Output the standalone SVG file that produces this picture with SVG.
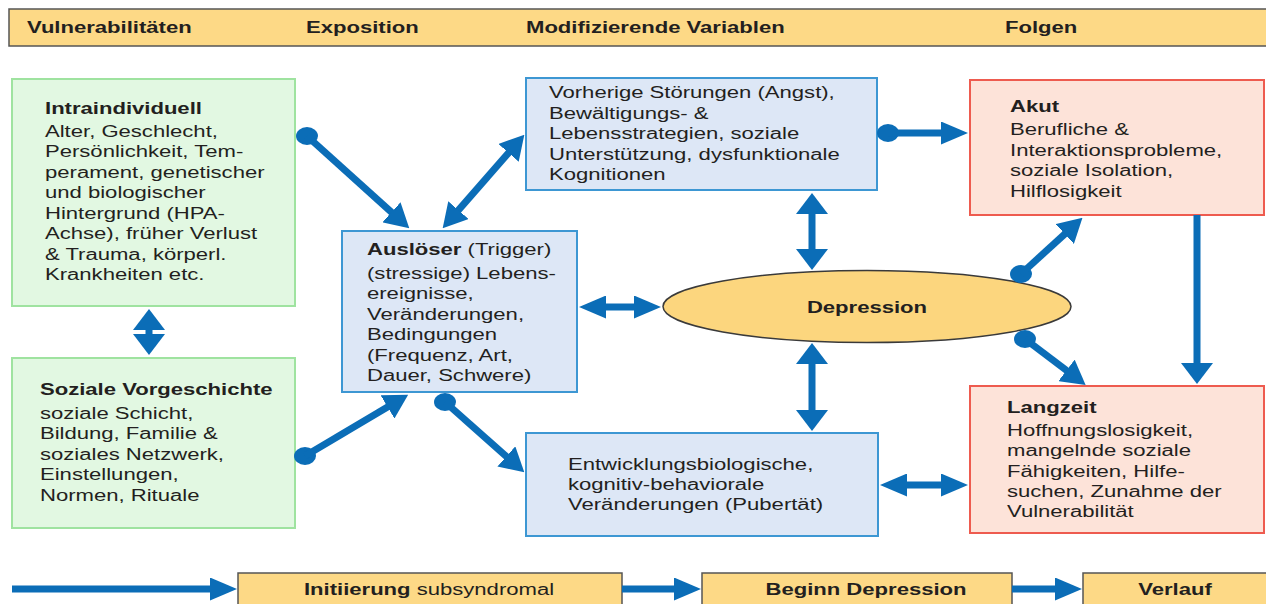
<svg xmlns="http://www.w3.org/2000/svg" width="1266" height="604" viewBox="0 0 1266 604">
<defs>
<style>
.t{font-family:"Liberation Sans",Arial,sans-serif;font-size:16px;fill:#231f20;}
.b{font-weight:bold;}
.hdr{fill:#FDD986;stroke:#555;stroke-width:1.5;}
.gr{fill:#E2F8E2;stroke:#9FE3A0;stroke-width:2;}
.bl{fill:#DDE7F6;stroke:#3D97D3;stroke-width:2;}
.rd{fill:#FDE3D9;stroke:#EE5B4F;stroke-width:2;}
.el{fill:#FCD67E;stroke:#3a3a3a;stroke-width:1.5;}
.c{stroke:#0B6DB7;stroke-width:7;fill:none;}
.dot{fill:#0B6DB7;}
</style>
<marker id="mh" viewBox="0 0 27 23" refX="1" refY="11.5" markerWidth="27" markerHeight="23" markerUnits="userSpaceOnUse" orient="auto-start-reverse"><path d="M0 0L27 11.5L0 23Z" fill="#0B6DB7"/></marker>
<marker id="mv" viewBox="0 0 21 32" refX="1" refY="16" markerWidth="21" markerHeight="32" markerUnits="userSpaceOnUse" orient="auto-start-reverse"><path d="M0 0L21 16L0 32Z" fill="#0B6DB7"/></marker>
<marker id="md" viewBox="0 0 24 27" refX="1" refY="13.5" markerWidth="24" markerHeight="27" markerUnits="userSpaceOnUse" orient="auto-start-reverse"><path d="M0 0L24 13.5L0 27Z" fill="#0B6DB7"/></marker>
</defs>
<rect width="1266" height="604" fill="#fff"/>

<g id="header">
<rect class="hdr" x="9" y="9" width="1265" height="37"/>
<text class="t b" transform="translate(27 0) scale(1.38 1)" x="0" y="33">Vulnerabilitäten</text>
<text class="t b" transform="translate(306 0) scale(1.38 1)" x="0" y="33">Exposition</text>
<text class="t b" transform="translate(526 0) scale(1.38 1)" x="0" y="33">Modifizierende Variablen</text>
<text class="t b" transform="translate(1005 0) scale(1.38 1)" x="0" y="33">Folgen</text>
</g>

<g id="intraindividuell">
<rect class="gr" x="12" y="79" width="283" height="227"/>
<text class="t" transform="translate(45 0) scale(1.38 1)">
<tspan class="b" x="0" y="114">Intraindividuell</tspan>
<tspan x="0" y="137">Alter, Geschlecht,</tspan>
<tspan x="0" y="157.5">Persönlichkeit, Tem-</tspan>
<tspan x="0" y="178">perament, genetischer</tspan>
<tspan x="0" y="198.5">und biologischer</tspan>
<tspan x="0" y="219">Hintergrund (HPA-</tspan>
<tspan x="0" y="239.5">Achse), früher Verlust</tspan>
<tspan x="0" y="260">&amp; Trauma, körperl.</tspan>
<tspan x="0" y="280.5">Krankheiten etc.</tspan>
</text>
</g>

<g id="soziale-vorgeschichte">
<rect class="gr" x="12" y="358" width="283" height="170"/>
<text class="t" transform="translate(40 0) scale(1.38 1)">
<tspan class="b" x="0" y="395">Soziale Vorgeschichte</tspan>
<tspan x="0" y="419">soziale Schicht,</tspan>
<tspan x="0" y="439.5">Bildung, Familie &amp;</tspan>
<tspan x="0" y="460">soziales Netzwerk,</tspan>
<tspan x="0" y="480.5">Einstellungen,</tspan>
<tspan x="0" y="501">Normen, Rituale</tspan>
</text>
</g>

<g id="ausloeser">
<rect class="bl" x="342" y="231" width="235" height="161"/>
<text class="t" transform="translate(367 0) scale(1.38 1)">
<tspan x="0" y="255"><tspan class="b">Auslöser</tspan> (Trigger)</tspan>
<tspan x="0" y="279">(stressige) Lebens-</tspan>
<tspan x="0" y="299.5">ereignisse,</tspan>
<tspan x="0" y="320">Veränderungen,</tspan>
<tspan x="0" y="340.5">Bedingungen</tspan>
<tspan x="0" y="361">(Frequenz, Art,</tspan>
<tspan x="0" y="381.5">Dauer, Schwere)</tspan>
</text>
</g>

<g id="vorherige-stoerungen">
<rect class="bl" x="526" y="78" width="351" height="112"/>
<text class="t" transform="translate(549 0) scale(1.38 1)">
<tspan x="0" y="98.5">Vorherige Störungen (Angst),</tspan>
<tspan x="0" y="119">Bewältigungs- &amp;</tspan>
<tspan x="0" y="139.5">Lebensstrategien, soziale</tspan>
<tspan x="0" y="160">Unterstützung, dysfunktionale</tspan>
<tspan x="0" y="180.5">Kognitionen</tspan>
</text>
</g>

<g id="entwicklung">
<rect class="bl" x="526" y="433" width="352" height="103"/>
<text class="t" transform="translate(568 0) scale(1.38 1)">
<tspan x="0" y="470.5">Entwicklungsbiologische,</tspan>
<tspan x="0" y="490.5">kognitiv-behaviorale</tspan>
<tspan x="0" y="510.5">Veränderungen (Pubertät)</tspan>
</text>
</g>

<g id="depression">
<ellipse class="el" cx="867" cy="306.5" rx="204" ry="36"/>
<text class="t b" transform="translate(867 0) scale(1.38 1)" x="0" y="313" text-anchor="middle">Depression</text>
</g>

<g id="akut">
<rect class="rd" x="970" y="80" width="294" height="135"/>
<text class="t" transform="translate(1010 0) scale(1.38 1)">
<tspan class="b" x="0" y="112">Akut</tspan>
<tspan x="0" y="135.5">Berufliche &amp;</tspan>
<tspan x="0" y="156">Interaktionsprobleme,</tspan>
<tspan x="0" y="176.5">soziale Isolation,</tspan>
<tspan x="0" y="197">Hilflosigkeit</tspan>
</text>
</g>

<g id="langzeit">
<rect class="rd" x="970" y="386" width="294" height="147"/>
<text class="t" transform="translate(1007 0) scale(1.38 1)">
<tspan class="b" x="0" y="413">Langzeit</tspan>
<tspan x="0" y="436">Hoffnungslosigkeit,</tspan>
<tspan x="0" y="456.5">mangelnde soziale</tspan>
<tspan x="0" y="477">Fähigkeiten, Hilfe-</tspan>
<tspan x="0" y="497">suchen, Zunahme der</tspan>
<tspan x="0" y="517">Vulnerabilität</tspan>
</text>
</g>

<g id="initiierung">
<rect class="hdr" x="238" y="573" width="384" height="40"/>
<text class="t" transform="translate(429 0) scale(1.38 1)" x="0" y="595" text-anchor="middle"><tspan class="b">Initiierung</tspan> subsyndromal</text>
</g>
<g id="beginn">
<rect class="hdr" x="702" y="573" width="310" height="40"/>
<text class="t b" transform="translate(866 0) scale(1.38 1)" x="0" y="595" text-anchor="middle">Beginn Depression</text>
</g>
<g id="verlauf">
<rect class="hdr" x="1083" y="573" width="190" height="40"/>
<text class="t b" transform="translate(1175 0) scale(1.38 1)" x="0" y="595" text-anchor="middle">Verlauf</text>
</g>

<g id="connectors">
<path class="c" d="M149 329L149 335" marker-start="url(#mv)" marker-end="url(#mv)"/>
<ellipse class="dot" cx="307" cy="136" rx="11" ry="9"/>
<path class="c" d="M307 136L392.2 212.9" marker-end="url(#md)"/>
<path class="c" d="M457.8 210.9L509.2 152.1" marker-start="url(#md)" marker-end="url(#md)"/>
<ellipse class="dot" cx="305" cy="456" rx="11" ry="9"/>
<path class="c" d="M305 456L388.4 406.4" marker-end="url(#md)"/>
<ellipse class="dot" cx="445" cy="402" rx="11" ry="9"/>
<path class="c" d="M445 402L507.1 457.1" marker-end="url(#md)"/>
<path class="c" d="M605 307L635 307" marker-start="url(#mh)" marker-end="url(#mh)"/>
<path class="c" d="M812 213L812 250" marker-start="url(#mv)" marker-end="url(#mv)"/>
<path class="c" d="M812 363L812 411" marker-start="url(#mv)" marker-end="url(#mv)"/>
<ellipse class="dot" cx="888" cy="133" rx="11" ry="9"/>
<path class="c" d="M888 133L942 133" marker-end="url(#mh)"/>
<ellipse class="dot" cx="1021" cy="274" rx="11" ry="9"/>
<path class="c" d="M1021 274L1065.5 233.3" marker-end="url(#md)"/>
<ellipse class="dot" cx="1025" cy="339" rx="11" ry="9"/>
<path class="c" d="M1025 339L1067.3 371" marker-end="url(#md)"/>
<path class="c" d="M1197 215L1197 364" marker-end="url(#mv)"/>
<path class="c" d="M906 485L942 485" marker-start="url(#mh)" marker-end="url(#mh)"/>
<path class="c" d="M12 589L211 589" marker-end="url(#mh)"/>
<path class="c" d="M622 589L675 589" marker-end="url(#mh)"/>
<path class="c" d="M1012 589L1056 589" marker-end="url(#mh)"/>
</g>
</svg>
